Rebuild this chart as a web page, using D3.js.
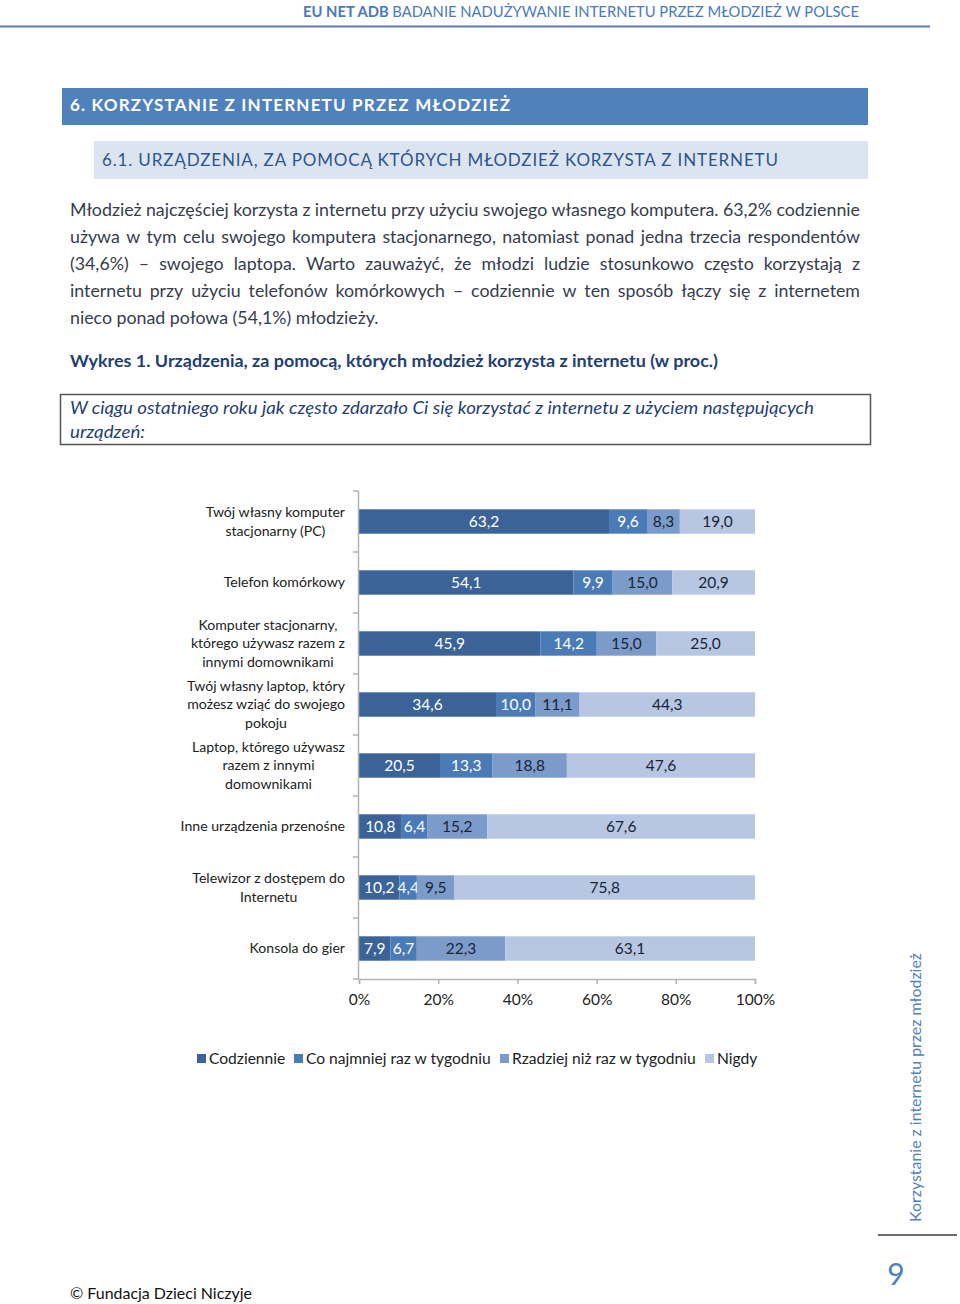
<!DOCTYPE html>
<html><head><meta charset="utf-8">
<script src="https://cdn.jsdelivr.net/npm/d3@7"></script>
<style>html,body{margin:0;padding:0;background:#fff;}svg{display:block;font-family:Lato,"Open Sans",sans-serif;}</style>
</head><body>
<svg id="page" width="960" height="1304"></svg>
<script>
const categories = [
  ["Twój własny komputer","stacjonarny (PC)"],
  ["Telefon komórkowy"],
  ["Komputer stacjonarny,","którego używasz razem z","innymi domownikami"],
  ["Twój własny laptop, który","możesz wziąć do swojego","pokoju"],
  ["Laptop, którego używasz","razem z innymi","domownikami"],
  ["Inne urządzenia przenośne"],
  ["Telewizor z dostępem do","Internetu"],
  ["Konsola do gier"]
];
const seriesNames = ["Codziennie","Co najmniej raz w tygodniu","Rzadziej niż raz w tygodniu","Nigdy"];
const codziennie = [63.2, 54.1, 45.9, 34.6, 20.5, 10.8, 10.2, 7.9];
const coNajmniej = [9.6, 9.9, 14.2, 10.0, 13.3, 6.4, 4.4, 6.7];
const rzadziej   = [8.3, 15.0, 15.0, 11.1, 18.8, 15.2, 9.5, 22.3];
const nigdy      = [19.0, 20.9, 25.0, 44.3, 47.6, 67.6, 75.8, 63.1];
const xTicks = [0, 20, 40, 60, 80, 100];
const colors = ["#3b6398","#4a7bb7","#7b9bcb","#b6c6e3"];
const labelColors = ["#ffffff","#ffffff","#1b2433","#1b2433"];

const paragraph = [
  "Młodzież najczęściej korzysta z internetu przy użyciu swojego własnego komputera. 63,2% codziennie",
  "używa w tym celu swojego komputera stacjonarnego, natomiast ponad jedna trzecia respondentów",
  "(34,6%) – swojego laptopa. Warto zauważyć, że młodzi ludzie stosunkowo często korzystają z",
  "internetu przy użyciu telefonów komórkowych – codziennie w ten sposób łączy się z internetem",
  "nieco ponad połowa (54,1%) młodzieży."
];

const svg = d3.select("#page");
const fmt = v => d3.format(".1f")(v).replace(".", ",");

// ---------- Page header ----------
const hdr = svg.append("text").attr("x", 303).attr("y", 17).attr("font-size", 16).attr("fill", "#4a7ab8")
  .attr("textLength", 556).attr("lengthAdjust", "spacingAndGlyphs");
hdr.append("tspan").attr("font-weight", "bold").text("EU NET ADB ");
hdr.append("tspan").text("BADANIE NADUŻYWANIE INTERNETU PRZEZ MŁODZIEŻ W POLSCE");
svg.append("line").attr("x1", 0).attr("x2", 930).attr("y1", 26.5).attr("y2", 26.5)
  .attr("stroke", "#5b7fae").attr("stroke-width", 2);

// ---------- Section headers ----------
svg.append("rect").attr("x", 62).attr("y", 88).attr("width", 806).attr("height", 37).attr("fill", "#4f81bd");
svg.append("text").attr("x", 70).attr("y", 111).attr("font-size", 17).attr("font-weight", "bold")
  .attr("fill", "#ffffff").attr("textLength", 440).attr("lengthAdjust", "spacing")
  .text("6.  KORZYSTANIE Z INTERNETU PRZEZ MŁODZIEŻ");
svg.append("rect").attr("x", 94).attr("y", 141).attr("width", 774).attr("height", 38).attr("fill", "#dbe5f1");
svg.append("text").attr("x", 102).attr("y", 166).attr("font-size", 17)
  .attr("fill", "#2f5588").attr("textLength", 676).attr("lengthAdjust", "spacing")
  .text("6.1. URZĄDZENIA, ZA POMOCĄ KTÓRYCH MŁODZIEŻ KORZYSTA Z INTERNETU");

// ---------- Justified paragraph ----------
const pg = svg.append("g").attr("font-size", 17.8).attr("fill", "#363c4c");
paragraph.forEach((line, i) => {
  const y = 216 + i * 27;
  const words = line.split(" ");
  if (i === paragraph.length - 1) {
    pg.append("text").attr("x", 70).attr("y", y).text(line);
    return;
  }
  const nodes = words.map(w => pg.append("text").attr("y", y).text(w));
  const widths = nodes.map(n => n.node().getComputedTextLength());
  const total = d3.sum(widths);
  const gap = (860 - 70 - total) / (words.length - 1);
  let x = 70;
  nodes.forEach((n, k) => { n.attr("x", x); x += widths[k] + gap; });
});

// ---------- Figure title and question box ----------
svg.append("text").attr("x", 70).attr("y", 367).attr("font-size", 17).attr("font-weight", "bold")
  .attr("fill", "#1f3f73").attr("textLength", 648).attr("lengthAdjust", "spacingAndGlyphs")
  .text("Wykres 1. Urządzenia, za pomocą, których młodzież korzysta z internetu (w proc.)");
svg.append("rect").attr("x", 60.5).attr("y", 394.5).attr("width", 810).attr("height", 50)
  .attr("fill", "none").attr("stroke", "#555").attr("stroke-width", 1.5);
svg.append("text").attr("x", 70).attr("y", 414).attr("font-size", 17).attr("font-style", "italic")
  .attr("fill", "#1f3f73").attr("textLength", 744).attr("lengthAdjust", "spacingAndGlyphs")
  .text("W ciągu ostatniego roku jak często zdarzało Ci się korzystać z internetu z użyciem następujących");
svg.append("text").attr("x", 70).attr("y", 438).attr("font-size", 17).attr("font-style", "italic")
  .attr("fill", "#1f3f73").attr("textLength", 75).attr("lengthAdjust", "spacingAndGlyphs")
  .text("urządzeń:");

// ---------- Chart ----------
const table = categories.map((c, i) => ({
  idx: i,
  [seriesNames[0]]: codziennie[i],
  [seriesNames[1]]: coNajmniej[i],
  [seriesNames[2]]: rzadziej[i],
  [seriesNames[3]]: nigdy[i]
}));
const stack = d3.stack().keys(seriesNames).offset(d3.stackOffsetExpand);
const stacked = stack(table);

const x = d3.scaleLinear().domain([0, 1]).range([359, 755]);
const y = d3.scaleBand().domain(d3.range(categories.length)).range([491, 979]).paddingInner(0.6).paddingOuter(0.3);
const band = d3.scaleBand().domain(d3.range(categories.length)).range([491, 979]);

const chart = svg.append("g");

stacked.forEach((s, si) => {
  const g = chart.append("g");
  g.selectAll("rect").data(s).join("rect")
    .attr("x", d => x(d[0])).attr("width", d => x(d[1]) - x(d[0]))
    .attr("y", (d, i) => y(i)).attr("height", y.bandwidth())
    .attr("fill", colors[si]);
  g.selectAll("text").data(s).join("text")
    .attr("x", d => (x(d[0]) + x(d[1])) / 2)
    .attr("y", (d, i) => y(i) + y.bandwidth() / 2)
    .attr("dy", "0.36em").attr("text-anchor", "middle")
    .attr("font-size", 15.5).attr("fill", labelColors[si])
    .text((d, i) => fmt(table[i][seriesNames[si]]));
});

// y axis (category axis, ticks between bands)
const yAxisG = chart.append("g").attr("stroke", "#b3b3b3").attr("stroke-width", 1.5);
yAxisG.append("line").attr("x1", 358.5).attr("x2", 358.5).attr("y1", 491).attr("y2", 979);
yAxisG.selectAll("line.t").data(d3.range(categories.length + 1)).join("line").attr("class", "t")
  .attr("x1", 353).attr("x2", 358.5)
  .attr("y1", d => d < categories.length ? band(d) : band.range()[1])
  .attr("y2", d => d < categories.length ? band(d) : band.range()[1]);

// x axis
const xAxis = d3.axisBottom(d3.scaleLinear().domain([0, 100]).range([359, 755]))
  .tickValues(xTicks).tickSize(5).tickFormat(d => d + "%");
const xg = chart.append("g").attr("transform", "translate(0,979)").call(xAxis);
xg.select(".domain").attr("stroke", "#b3b3b3").attr("stroke-width", 1.5);
xg.selectAll(".tick line").attr("stroke", "#b3b3b3").attr("stroke-width", 1.5);
xg.selectAll(".tick text").attr("font-family", "Lato, sans-serif").attr("font-size", 15.5)
  .attr("fill", "#222").attr("y", 15);

// category labels
const lh = 18.5;
categories.forEach((lines, i) => {
  const cy = y(i) + y.bandwidth() / 2;
  const g = chart.append("g").attr("font-size", 14.1).attr("fill", "#222");
  const texts = lines.map((l, k) => g.append("text").attr("text-anchor", "middle")
    .attr("y", cy + (k - (lines.length - 1) / 2) * lh).attr("dy", "0.35em").text(l));
  const maxW = d3.max(texts, t => t.node().getComputedTextLength());
  texts.forEach(t => t.attr("x", 345 - maxW / 2));
});

// legend
const legendX = [197, 294, 500, 705];
const lg = chart.append("g");
seriesNames.forEach((n, i) => {
  lg.append("rect").attr("x", legendX[i]).attr("y", 1054).attr("width", 9).attr("height", 9).attr("fill", colors[i]);
  lg.append("text").attr("x", legendX[i] + 12).attr("y", 1058.5).attr("dy", "0.36em")
    .attr("font-size", 15.6).attr("fill", "#222").text(n);
});

// ---------- Side decorations ----------
svg.append("text").attr("transform", "translate(921,1222) rotate(-90)").attr("font-size", 16)
  .attr("fill", "#4f81bd").attr("textLength", 269).attr("lengthAdjust", "spacingAndGlyphs")
  .text("Korzystanie z internetu przez młodzież");
svg.append("line").attr("x1", 878).attr("x2", 957).attr("y1", 1235).attr("y2", 1235)
  .attr("stroke", "#6b6b6b").attr("stroke-width", 2);
svg.append("text").attr("x", 896).attr("y", 1285).attr("text-anchor", "middle").attr("font-size", 30)
  .attr("fill", "#4f81bd").text("9");
svg.append("text").attr("x", 70).attr("y", 1299).attr("font-size", 16).attr("fill", "#111")
  .attr("textLength", 182).attr("lengthAdjust", "spacingAndGlyphs")
  .text("© Fundacja Dzieci Niczyje");
</script>
</body></html>
